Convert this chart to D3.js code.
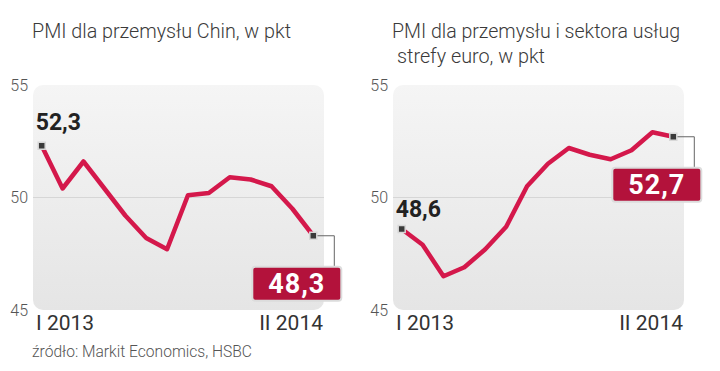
<!DOCTYPE html>
<html>
<head>
<meta charset="utf-8">
<script src="https://cdn.jsdelivr.net/npm/d3@7"></script>
<style>
  body { margin: 0; background: #fff; }
  svg { display: block; }
</style>
</head>
<body>
<div id="chart"></div>
<script>
// Data: monthly PMI, Jan 2013 - Feb 2014
var months = ["I 2013", "II 2013", "III 2013", "IV 2013", "V 2013", "VI 2013", "VII 2013",
              "VIII 2013", "IX 2013", "X 2013", "XI 2013", "XII 2013", "I 2014", "II 2014"];
var chinaPmi = [52.3, 50.4, 51.6, 50.4, 49.2, 48.2, 47.7, 50.1, 50.2, 50.9, 50.8, 50.5, 49.5, 48.3];
var euroPmi  = [48.6, 47.9, 46.5, 46.9, 47.7, 48.7, 50.5, 51.5, 52.2, 51.9, 51.7, 52.1, 52.9, 52.7];
var yTicks = [45, 50, 55];
var chinaTitle = ["PMI dla przemysłu Chin, w pkt"];
var euroTitle = ["PMI dla przemysłu i sektora usług", "strefy euro, w pkt"];
var sourceText = "źródło: Markit Economics, HSBC";

var W = 720, H = 371;

var svg = d3.select("#chart")
            .append("svg")
            .attr("width", W)
            .attr("height", H);

svg.append("rect").attr("width", W).attr("height", H).attr("fill", "#fff");

// panel background gradient
var grad = svg.append("defs")
              .append("linearGradient")
              .attr("id", "panelFill")
              .attr("x1", 0).attr("y1", 0).attr("x2", 0).attr("y2", 1);
grad.append("stop").attr("offset", "0%").attr("stop-color", "#f5f5f5");
grad.append("stop").attr("offset", "100%").attr("stop-color", "#e5e5e5");

var fmt = d3.formatLocale({decimal: ",", thousands: " ", grouping: [3], currency: ["", ""]}).format(".1f");

// squeeze a text element to a given width (the original uses a condensed face)
function fitWidth(sel, w) {
	sel.attr("textLength", w).attr("lengthAdjust", "spacingAndGlyphs");
}

var panelTop = 85, panelBottom = 310, panelW = 291;

function drawChart(opts) {
	var left = opts.left;
	var g = svg.append("g");

	// titles
	opts.title.forEach(function(t, i) {
		var txt = g.append("text")
		           .attr("x", opts.titleX[i])
		           .attr("y", 38 + i * 25)
		           .attr("font-family", "Roboto")
		           .attr("font-weight", 300)
		           .attr("font-size", "20px")
		           .attr("fill", "#3a3a3a")
		           .text(t);
		fitWidth(txt, opts.titleW[i]);
	});

	var yScale = d3.scaleLinear()
	               .domain([45, 55])
	               .range([panelBottom, panelTop]);

	var xScale = d3.scalePoint()
	               .domain(months)
	               .range([left + 8.7, left + 280.3]);

	g.append("rect")
	 .attr("x", left)
	 .attr("y", panelTop)
	 .attr("width", panelW)
	 .attr("height", panelBottom - panelTop)
	 .attr("rx", 10)
	 .attr("fill", "url(#panelFill)");

	// inner gridlines only
	g.selectAll(".grid")
	 .data(yTicks.filter(function(d) { return d > 45 && d < 55; }))
	 .enter()
	 .append("line")
	 .attr("class", "grid")
	 .attr("x1", left)
	 .attr("x2", left + panelW)
	 .attr("y1", function(d) { return yScale(d); })
	 .attr("y2", function(d) { return yScale(d); })
	 .attr("stroke", "#d6d6d6")
	 .attr("stroke-width", 1);

	// y axis labels
	var yAxis = g.append("g")
	             .attr("transform", "translate(" + (left - 3) + ",0)")
	             .call(d3.axisLeft(yScale).tickValues(yTicks).tickSize(0).tickPadding(2));
	yAxis.select(".domain").remove();
	yAxis.selectAll("text")
	     .attr("font-family", "Roboto")
	     .attr("font-weight", 300)
	     .attr("font-size", "16px")
	     .attr("fill", "#555");

	// x labels: first and last month
	g.append("text")
	 .attr("x", left + 3)
	 .attr("y", 330)
	 .attr("font-family", "Roboto")
	 .attr("font-size", "21px")
	 .attr("fill", "#333")
	 .text(months[0]);
	g.append("text")
	 .attr("x", left + panelW - 1)
	 .attr("y", 330)
	 .attr("text-anchor", "end")
	 .attr("font-family", "Roboto")
	 .attr("font-size", "21px")
	 .attr("fill", "#333")
	 .text(months[months.length - 1]);

	// the line
	var line = d3.line()
	             .x(function(d, i) { return xScale(months[i]); })
	             .y(function(d) { return yScale(d); });

	g.append("path")
	 .datum(opts.values)
	 .attr("d", line)
	 .attr("fill", "none")
	 .attr("stroke", "#d4184b")
	 .attr("stroke-width", 4.5)
	 .attr("stroke-linejoin", "round");

	var n = opts.values.length;
	var x0 = xScale(months[0]), y0 = yScale(opts.values[0]);
	var x1 = xScale(months[n - 1]), y1 = yScale(opts.values[n - 1]);

	// connector to end box
	g.append("path")
	 .attr("d", "M" + x1 + "," + y1 + "H" + (x1 + 21) + "V" + (y1 + 31))
	 .attr("fill", "none")
	 .attr("stroke", "#666")
	 .attr("stroke-width", 1);

	// markers on first and last point
	g.selectAll(".marker")
	 .data([[x0, y0], [x1, y1]])
	 .enter()
	 .append("rect")
	 .attr("class", "marker")
	 .attr("x", function(d) { return d[0] - 3.5; })
	 .attr("y", function(d) { return d[1] - 3.5; })
	 .attr("width", 7)
	 .attr("height", 7)
	 .attr("fill", "#3a3a3a")
	 .attr("stroke", "#d8d8d8")
	 .attr("stroke-width", 1.5);

	// first value label
	g.append("text")
	 .attr("x", x0 - 6)
	 .attr("y", y0 - opts.startGap)
	 .attr("font-family", "Roboto")
	 .attr("font-weight", 700)
	 .attr("font-size", "23px")
	 .attr("fill", "#222")
	 .text(fmt(opts.values[0]));

	// last value box
	var bx = x1 + 28 - 89, by = y1 + 31;
	g.append("rect")
	 .attr("x", bx)
	 .attr("y", by)
	 .attr("width", 89)
	 .attr("height", 34)
	 .attr("rx", 3)
	 .attr("fill", "#b3123b")
	 .attr("stroke", "#dcdcdc")
	 .attr("stroke-width", 2);
	g.append("text")
	 .attr("x", bx + 44.5)
	 .attr("y", by + 26)
	 .attr("text-anchor", "middle")
	 .attr("font-family", "Roboto")
	 .attr("font-weight", 700)
	 .attr("font-size", "27px")
	 .attr("letter-spacing", "1px")
	 .attr("fill", "#fff")
	 .text(fmt(opts.values[n - 1]));
}

drawChart({left: 33, values: chinaPmi, title: chinaTitle, titleX: [32], titleW: [259], startGap: 16});
drawChart({left: 393, values: euroPmi, title: euroTitle, titleX: [392, 397], titleW: [288, 148], startGap: 12});

var src = svg.append("text")
             .attr("x", 32)
             .attr("y", 357)
             .attr("font-family", "Roboto")
             .attr("font-weight", 300)
             .attr("font-size", "17px")
             .attr("fill", "#555")
             .text(sourceText);
fitWidth(src, 220);
</script>
</body>
</html>
